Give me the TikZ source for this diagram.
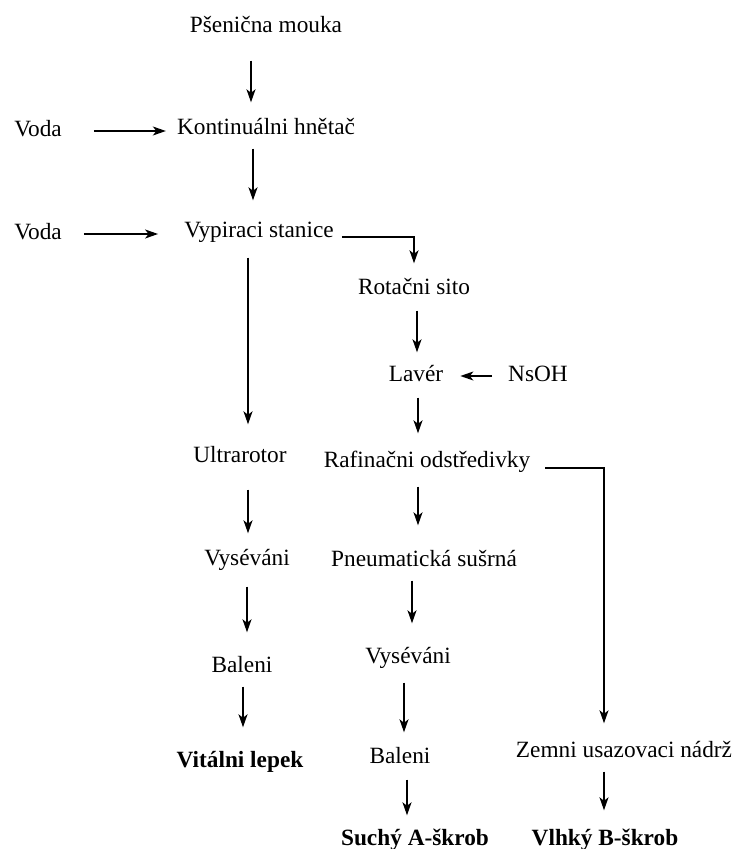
\documentclass[tikz,border=0pt]{standalone}
\usepackage{fontspec}
\setmainfont{Liberation Serif}
\newfontfamily\diagramfont{Liberation Serif}
\usetikzlibrary{arrows.meta}

\begin{document}
\begin{tikzpicture}[
    x=1pt, y=-1pt,
    stage/.style={font=\diagramfont\fontsize{23.3}{28}\selectfont, text height=16pt, text depth=5pt, inner xsep=0pt, inner ysep=3pt},
    product/.style={stage, font=\diagramfont\fontsize{23.3}{28}\selectfont\bfseries},
    flow/.style={-{Stealth[length=13pt, width=9pt, inset=3.5pt]}, line width=1.5pt}
]
\useasboundingbox (0,0) rectangle (732,849);

% Vertical step arrow: from, to, x offset, gap at start, gap at tip
\newcommand{\flowDown}[5]{
    \coordinate (#1-out) at ([xshift=#3]#1.south);
    \draw[flow, shorten <=#4, shorten >=#5] (#1-out) -- (#1-out |- #2.north);
}

% ==========================================
% Stages
\node[stage] (pm) at (266,27) {Pšenična mouka};
\node[stage] (voda1) at (38,131) {Voda};
\node[stage] (kh) at (266,129) {Kontinuálni hnětač};
\node[stage] (voda2) at (38,234) {Voda};
\node[stage] (vs) at (259,232) {Vypiraci stanice};
\node[stage] (rs) at (414,289) {Rotačni sito};
\node[stage] (lav) at (416,376) {Lavér};
\node[stage] (naoh) at (538,376) {NsOH};
\node[stage] (ur) at (240,457) {Ultrarotor};
\node[stage] (ro) at (427,462) {Rafinačni odstředivky};
\node[stage] (vyL) at (247,560) {Vyséváni};
\node[stage] (ps) at (424,561) {Pneumatická sušrná};
\node[stage] (balL) at (242,667) {Baleni};
\node[stage] (vyM) at (408,658) {Vyséváni};
\node[stage] (balM) at (400,758) {Baleni};
\node[stage] (zn) at (624,752) {Zemni usazovaci nádrž};

% Products
\node[product] (vl) at (240,762) {Vitálni lepek};
\node[product] (sa) at (415,840) {Suchý A-škrob};
\node[product] (vb) at (605,840) {Vlhký B-škrob};

% ==========================================
% Main line
\flowDown{pm}{kh}{-15pt}{20pt}{13pt}
\flowDown{kh}{vs}{-13pt}{6pt}{18pt}
\draw[flow, shorten <=32pt, shorten >=11pt] (voda1.east) -- (voda1.east -| kh.west);
\draw[flow, shorten <=22pt, shorten >=26pt] (voda2.east) -- (voda2.east -| vs.west);

% Gluten branch
\flowDown{vs}{ur}{-11pt}{12pt}{19pt}
\flowDown{ur}{vyL}{8pt}{19pt}{13pt}
\flowDown{vyL}{balL}{0pt}{13pt}{21pt}
\flowDown{balL}{vl}{1pt}{6pt}{21pt}

% Starch branch
\draw[flow, shorten <=8pt, shorten >=12pt] ([yshift=-5pt]vs.east) -| (rs.north);
\flowDown{rs}{lav}{3pt}{8pt}{10pt}
\draw[flow, shorten <=16pt, shorten >=17pt] (naoh.west) -- (naoh.west -| lav.east);
\flowDown{lav}{ro}{2pt}{8pt}{15pt}
\flowDown{ro}{ps}{-9pt}{11pt}{22pt}
\flowDown{ps}{vyM}{-12pt}{6pt}{21pt}
\flowDown{vyM}{balM}{-4pt}{11pt}{12pt}
\flowDown{balM}{sa}{7pt}{8pt}{11pt}

% B-starch
\draw[flow, shorten <=15pt, shorten >=15pt] ([yshift=-6pt]ro.east) -| ([xshift=-20pt]zn.north);
\flowDown{zn}{vb}{-20pt}{6pt}{16pt}

\end{tikzpicture}
\end{document}
